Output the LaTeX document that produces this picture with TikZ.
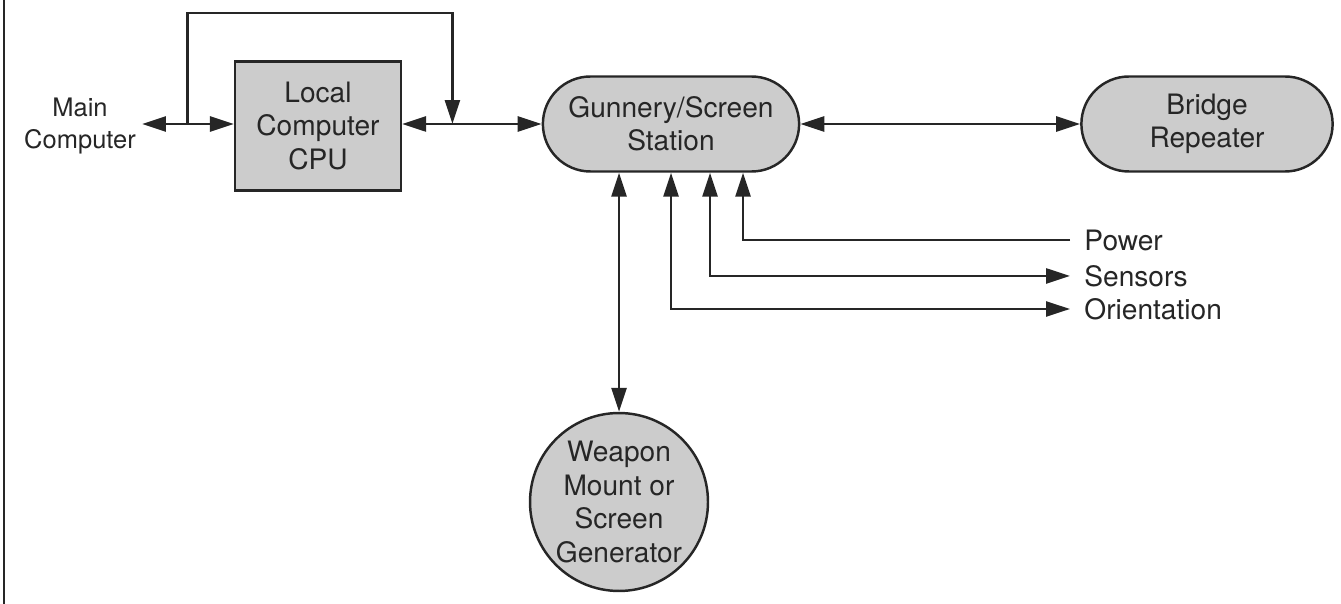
\documentclass[tikz,border=0pt]{standalone}
\usepackage{fontspec}
\setmainfont{TeX Gyre Heros}
\usetikzlibrary{arrows.meta,calc,shapes.misc}
\definecolor{InkClr}{gray}{0.15}
\definecolor{ShadeClr}{gray}{0.8}

\begin{document}
\begin{tikzpicture}[x=0.02cm,y=-0.02cm,
  every node/.style={font=\fontsize{16}{19}\selectfont,text=InkClr,align=center},
  unit/.style={draw=InkClr,line width=1.4pt,fill=ShadeClr},
  link/.style={draw=InkClr,line width=1.6pt,-{Triangle[length=0.48cm,width=0.3cm]}},
  dbl/.style={link,{Triangle[length=0.48cm,width=0.3cm]}-{Triangle[length=0.48cm,width=0.3cm]}},
  sig/.style={anchor=west,inner xsep=8pt}]
\useasboundingbox (0,0) rectangle (1341,604);

\draw[InkClr,line width=0.8pt] (4,0) -- (4,604);

\node[font=\fontsize{14.5}{18}\selectfont] (main) at (80,126) {Main\\Computer};
\node[unit,minimum width=3.32cm,minimum height=2.58cm] (cpu) at (318,126) {Local\\Computer\\CPU};
\node[unit,rounded rectangle,minimum width=5.36cm,minimum height=1.9cm] (gun) at (671,124) {Gunnery/Screen\\Station};
\node[unit,rounded rectangle,minimum width=5.26cm,minimum height=1.9cm] (bridge) at (1207,124) {Bridge\\Repeater};
\node[unit,circle,minimum size=3.56cm,inner sep=0pt] (weapon) at (619,502) {Weapon\\Mount or\\Screen\\Generator};

\node[sig] (power) at (1070,240) {Power};
\node[sig] (sensors) at (1070,276) {Sensors};
\node[sig] (orient) at (1070,309) {Orientation};

\coordinate (j1) at ($(main.east |- gun.west)!0.5!(cpu.west |- gun.west)$);
\coordinate (j2) at ($(cpu.east |- gun.west)!0.36!(gun.west)$);
\coordinate (top) at (j1 |- 0,13);

\draw[dbl] (main.east |- gun.west) -- (cpu.west |- gun.west);
\draw[dbl] (cpu.east |- gun.west) -- (gun.west);
\draw[link] (j1) -- (top) -| (j2);
\draw[dbl] (gun.east) -- (bridge.west);
\draw[dbl] (weapon.north) -- (weapon.north |- gun.south);

\draw[link] (power.west) -| ($(gun.south)+(72,0)$);
\draw[dbl] (sensors.west) -| ($(gun.south)+(39,0)$);
\draw[dbl] (orient.west) -| (gun.south);

\end{tikzpicture}
\end{document}
